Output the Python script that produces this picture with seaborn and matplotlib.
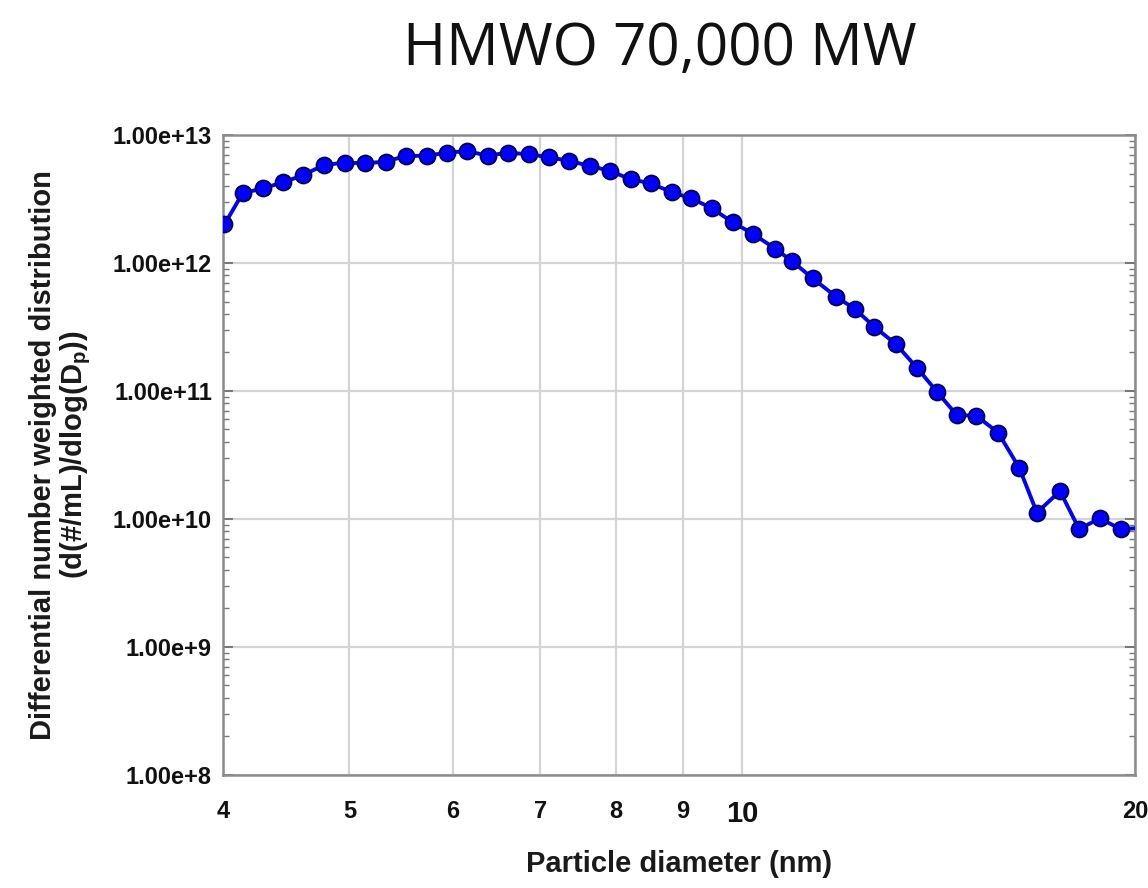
import numpy as np
import pandas as pd
import matplotlib
matplotlib.use("Agg")
import matplotlib.pyplot as plt
import matplotlib.ticker as mticker
import seaborn as sns

# Particle size distribution (HMWO, 70,000 MW)
diameter_nm = [4.01, 4.14, 4.29, 4.45, 4.61, 4.78, 4.96, 5.14, 5.33, 5.52,
               5.73, 5.94, 6.15, 6.38, 6.61, 6.86, 7.11, 7.37, 7.64, 7.92,
               8.21, 8.51, 8.83, 9.14, 9.48, 9.83, 10.20, 10.60, 10.91, 11.32,
               11.80, 12.20, 12.62, 13.11, 13.61, 14.11, 14.60, 15.11, 15.71, 16.31,
               16.82, 17.52, 18.12, 18.80, 19.51, 20.45]
number_dist = [2.0e12, 3.50e12, 3.83e12, 4.27e12, 4.87e12, 5.83e12, 6.08e12, 6.01e12, 6.19e12, 6.85e12,
               6.89e12, 7.27e12, 7.50e12, 6.89e12, 7.27e12, 7.07e12, 6.70e12, 6.27e12, 5.73e12, 5.24e12,
               4.51e12, 4.19e12, 3.57e12, 3.20e12, 2.67e12, 2.08e12, 1.68e12, 1.29e12, 1.04e12, 7.60e11,
               5.45e11, 4.37e11, 3.18e11, 2.33e11, 1.52e11, 9.77e10, 6.49e10, 6.41e10, 4.72e10, 2.49e10,
               1.12e10, 1.65e10, 8.35e9, 1.01e10, 8.31e9, 8.6e9]

x_ticks = [4, 5, 6, 7, 8, 9, 10, 20]
x_tick_labels = ["4", "5", "6", "7", "8", "9", "10", "20"]
y_ticks = [1e8, 1e9, 1e10, 1e11, 1e12, 1e13]

title = "HMWO 70,000 MW"
x_label = "Particle diameter (nm)"
y_label = "Differential number weighted distribution\n(d(#/mL)/dlog(D$_\\mathbf{p}$))"

df = pd.DataFrame({"diameter": diameter_nm, "dist": number_dist})

sns.set_style("white")
plt.rcParams["font.family"] = ["Liberation Sans", "DejaVu Sans"]
plt.rcParams["mathtext.fontset"] = "custom"
plt.rcParams["mathtext.rm"] = "Liberation Sans"
plt.rcParams["mathtext.bf"] = "Liberation Sans:bold"

fig = plt.figure(figsize=(11.48, 8.88), dpi=100)
ax = fig.add_axes([0.1943, 0.1273, 0.7944, 0.7207])

sns.lineplot(data=df, x="diameter", y="dist", ax=ax, sort=False,
             color="#0000ff", linewidth=2.8, marker="o", markersize=11.5,
             markerfacecolor="#0000ff", markeredgecolor="#000050",
             markeredgewidth=1.3, zorder=3)

ax.set_xscale("log")
ax.set_yscale("log")
ax.set_xlim(4, 20)
ax.set_ylim(1e8, 1e13)

ax.xaxis.set_major_locator(mticker.FixedLocator(x_ticks))
ax.xaxis.set_major_formatter(mticker.FixedFormatter(x_tick_labels))
ax.xaxis.set_minor_locator(mticker.NullLocator())

def sci_fmt(v, pos):
    exp = int(round(np.log10(v)))
    return f"1.00e+{exp}"

ax.yaxis.set_major_locator(mticker.FixedLocator(y_ticks))
ax.yaxis.set_major_formatter(mticker.FuncFormatter(sci_fmt))
ax.yaxis.set_minor_locator(mticker.LogLocator(base=10, subs=np.arange(2, 10)))
ax.yaxis.set_minor_formatter(mticker.NullFormatter())

ax.grid(True, which="major", color="#d4d4d4", linewidth=1.6, zorder=0)
ax.set_axisbelow(True)

for sp in ax.spines.values():
    sp.set_color("#8c8c8c")
    sp.set_linewidth(1.8)
    sp.set_visible(True)

ax.tick_params(axis="x", which="major", direction="in", length=5, width=1.2,
               color="#555555", pad=18, labelsize=17, labelcolor="#111111")
ax.tick_params(axis="y", which="major", direction="in", length=7, width=1.2,
               color="#666666", pad=8, labelsize=17, labelcolor="#111111",
               left=True, right=True)
ax.tick_params(axis="y", which="minor", direction="in", length=4, width=1.0,
               color="#777777", left=True, right=True)

for lbl in ax.get_xticklabels():
    lbl.set_fontweight("bold")
    if lbl.get_text() == "10":
        lbl.set_fontsize(21)
for lbl in ax.get_yticklabels():
    lbl.set_fontweight("bold")

ax.set_xlabel(x_label, fontsize=21, fontweight="bold", color="#1a1a1a")
ax.xaxis.set_label_coords(0.5, -0.118)
ax.set_ylabel(y_label, fontsize=21, fontweight="bold", color="#1a1a1a",
              linespacing=1.05)
ax.yaxis.set_label_coords(-0.143, 0.5)

fig.text(660 / 1148, 1 - 65 / 888, title, fontsize=42, family="Open Sans",
         ha="center", va="baseline", color="#111111")

fig.savefig("out.png", dpi=100, facecolor="white")
